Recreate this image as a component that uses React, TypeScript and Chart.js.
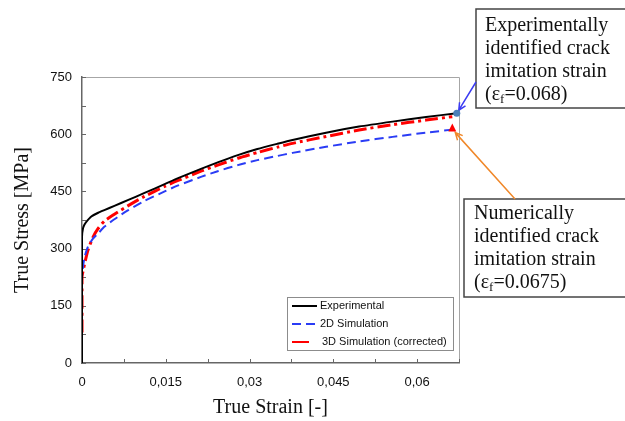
import React, { useEffect, useRef } from "react";
import { Chart, registerables } from "chart.js";

Chart.register(...registerables);

// Measured flow curves: true strain [-] vs true stress [MPa]
const expStrain = [0, 0, 0.00018, 0.00045, 0.00077, 0.00167, 0.0029, 0.004, 0.0058, 0.0082, 0.0112, 0.0148, 0.0171, 0.0213, 0.0243, 0.0279, 0.0314, 0.035, 0.0377, 0.0437, 0.0496, 0.0556, 0.0616, 0.0671];
const expStress = [0, 331, 353, 363, 370, 384, 394, 401, 412, 427, 446, 469, 484, 509, 526, 545, 561, 575, 585, 604, 620, 633, 645, 655];

const sim2dStrain = [0, 0, 0.00018, 0.00048, 0.00107, 0.002, 0.0029, 0.004, 0.0058, 0.0082, 0.0112, 0.0148, 0.0171, 0.0213, 0.0243, 0.0279, 0.0314, 0.035, 0.0377, 0.0437, 0.0496, 0.0556, 0.0616, 0.0663];
const sim2dStress = [100, 225, 252, 279, 305, 327, 340, 357, 377, 400, 425, 450, 465, 488, 503, 519, 532, 543, 551, 567, 581, 593, 604, 612];

const sim3dStrain = [0, 0, 0.00018, 0.00048, 0.00107, 0.002, 0.0029, 0.004, 0.0058, 0.0082, 0.0112, 0.0148, 0.0171, 0.0213, 0.0243, 0.0279, 0.0314, 0.035, 0.0377, 0.0437, 0.0496, 0.0556, 0.0616, 0.0663];
const sim3dStress = [80, 226, 240, 261, 296, 331, 353, 372, 390, 412, 437, 463, 478, 503, 519, 537, 552, 566, 576, 594, 611, 625, 637, 646];

const seriesLabels = ["Experimental", "2D Simulation", "3D Simulation (corrected)"];

const xTicks = [0, 0.0075, 0.015, 0.0225, 0.03, 0.0375, 0.045, 0.0525, 0.06, 0.0675];
const xTickLabels = ["0", "", "0,015", "", "0,03", "", "0,045", "", "0,06", ""];
const yTicks = [0, 75, 150, 225, 300, 375, 450, 525, 600, 675, 750];
const yTickLabels = ["0", "", "150", "", "300", "", "450", "", "600", "", "750"];

const expNote = ["Experimentally", "identified crack", "imitation strain"];
const expNoteValue = "0.068";
const numNote = ["Numerically", "identified crack", "imitation strain"];
const numNoteValue = "0.0675";

const SANS = "'Liberation Sans', Arial, sans-serif";
const SERIF = "'Liberation Serif', 'Times New Roman', serif";

const toPoints = (xs: number[], ys: number[]) => xs.map((x, i) => ({ x, y: ys[i] }));

function drawArrow(ctx: CanvasRenderingContext2D, x1: number, y1: number, x2: number, y2: number, color: string) {
  const ang = Math.atan2(y2 - y1, x2 - x1);
  const head = 8;
  ctx.save();
  ctx.strokeStyle = color;
  ctx.lineWidth = 1.5;
  ctx.beginPath();
  ctx.moveTo(x1, y1);
  ctx.lineTo(x2, y2);
  ctx.moveTo(x2 - head * Math.cos(ang - 0.45), y2 - head * Math.sin(ang - 0.45));
  ctx.lineTo(x2, y2);
  ctx.lineTo(x2 - head * Math.cos(ang + 0.45), y2 - head * Math.sin(ang + 0.45));
  ctx.stroke();
  ctx.restore();
}

function drawNote(ctx: CanvasRenderingContext2D, box: [number, number, number, number], tx: number, ty: number, lines: string[], value: string) {
  const [bx, by, bw, bh] = box;
  ctx.save();
  ctx.fillStyle = "#ffffff";
  ctx.fillRect(bx, by, bw, bh);
  ctx.strokeStyle = "#444444";
  ctx.lineWidth = 1.5;
  ctx.strokeRect(bx, by, bw, bh);
  ctx.fillStyle = "#111111";
  ctx.textBaseline = "middle";
  ctx.textAlign = "left";
  ctx.font = `20px ${SERIF}`;
  const lh = 23;
  lines.forEach((t, i) => ctx.fillText(t, tx, ty + i * lh));
  const y4 = ty + 3 * lh;
  let x = tx;
  const p1 = "(\u03b5";
  ctx.fillText(p1, x, y4);
  x += ctx.measureText(p1).width;
  ctx.font = `13px ${SERIF}`;
  ctx.fillText("f", x, y4 + 5);
  x += ctx.measureText("f").width;
  ctx.font = `20px ${SERIF}`;
  ctx.fillText(`=${value})`, x, y4);
  ctx.restore();
}

const decorPlugin = {
  id: "decor",
  beforeDatasetsDraw(chart: any) {
    const { ctx, chartArea: a, scales } = chart;
    ctx.save();
    // light frame on the top and right of the plot area
    ctx.strokeStyle = "#a6a6a6";
    ctx.lineWidth = 1;
    ctx.beginPath();
    ctx.moveTo(a.left, a.top + 0.5);
    ctx.lineTo(a.right + 0.5, a.top + 0.5);
    ctx.lineTo(a.right + 0.5, a.bottom);
    ctx.stroke();
    // inward tick marks
    ctx.strokeStyle = "#666666";
    ctx.beginPath();
    xTicks.forEach((v) => {
      const px = Math.round(scales.x.getPixelForValue(v)) + 0.5;
      ctx.moveTo(px, a.bottom);
      ctx.lineTo(px, a.bottom - 4);
    });
    yTicks.forEach((v) => {
      const py = Math.round(scales.y.getPixelForValue(v)) + 0.5;
      ctx.moveTo(a.left, py);
      ctx.lineTo(a.left + 4, py);
    });
    ctx.stroke();
    ctx.restore();
  },
  afterDraw(chart: any) {
    const { ctx, scales } = chart;
    const sx = scales.x;
    const sy = scales.y;

    // legend box
    ctx.save();
    const lx = 287, ly = 297, lw = 166, lh = 53;
    ctx.fillStyle = "#ffffff";
    ctx.fillRect(lx, ly, lw, lh);
    ctx.strokeStyle = "#8c8c8c";
    ctx.lineWidth = 1;
    ctx.strokeRect(lx + 0.5, ly + 0.5, lw, lh);
    ctx.font = `11px ${SANS}`;
    ctx.textBaseline = "middle";
    ctx.fillStyle = "#111111";
    const rows = [306, 324, 342];
    // Experimental
    ctx.strokeStyle = "#000000";
    ctx.lineWidth = 2;
    ctx.beginPath();
    ctx.moveTo(292, rows[0]);
    ctx.lineTo(317, rows[0]);
    ctx.stroke();
    ctx.fillText(seriesLabels[0], 320, rows[0]);
    // 2D
    ctx.strokeStyle = "#2a3cf5";
    ctx.setLineDash([9, 5]);
    ctx.beginPath();
    ctx.moveTo(292, rows[1]);
    ctx.lineTo(317, rows[1]);
    ctx.stroke();
    ctx.setLineDash([]);
    ctx.fillText(seriesLabels[1], 320, rows[1]);
    // 3D
    ctx.strokeStyle = "#ff0000";
    ctx.beginPath();
    ctx.moveTo(292, rows[2]);
    ctx.lineTo(309, rows[2]);
    ctx.stroke();
    ctx.fillText(seriesLabels[2], 322, rows[2]);
    ctx.restore();

    // end-point markers
    const ex = sx.getPixelForValue(expStrain[expStrain.length - 1]);
    const ey = sy.getPixelForValue(expStress[expStress.length - 1]);
    const nx = sx.getPixelForValue(sim2dStrain[sim2dStrain.length - 1]);
    const ny = sy.getPixelForValue(sim2dStress[sim2dStress.length - 1]);

    // annotation callouts
    drawNote(ctx, [476, 9, 152, 99], 485, 26, expNote, expNoteValue);
    drawNote(ctx, [464, 199, 164, 98], 474, 214, numNote, numNoteValue);

    drawArrow(ctx, 476, 82, ex + 2, ey - 3, "#3b3bf2");
    drawArrow(ctx, 515, 199, nx + 3, ny + 3, "#f0882a");

    ctx.save();
    ctx.fillStyle = "#ff0000";
    ctx.beginPath();
    ctx.moveTo(nx, ny - 6);
    ctx.lineTo(nx - 4, ny + 2);
    ctx.lineTo(nx + 4, ny + 2);
    ctx.closePath();
    ctx.fill();
    ctx.fillStyle = "#4a7fb8";
    ctx.beginPath();
    ctx.arc(ex, ey, 3.5, 0, Math.PI * 2);
    ctx.fill();
    ctx.restore();
  },
};

export default function App() {
  const canvasRef = useRef<HTMLCanvasElement | null>(null);

  useEffect(() => {
    const canvas = canvasRef.current;
    if (!canvas) return;
    const chart = new Chart(canvas, {
      type: "line",
      data: {
        datasets: [
          {
            label: seriesLabels[0],
            data: toPoints(expStrain, expStress),
            borderColor: "#000000",
            borderWidth: 2,
            pointRadius: 0,
            tension: 0.2,
          },
          {
            label: seriesLabels[1],
            data: toPoints(sim2dStrain, sim2dStress),
            borderColor: "#2a3cf5",
            borderWidth: 2,
            borderDash: [9, 5],
            pointRadius: 0,
            tension: 0.2,
          },
          {
            label: seriesLabels[2],
            data: toPoints(sim3dStrain, sim3dStress),
            borderColor: "#ff0000",
            borderWidth: 3,
            borderDash: [13, 4, 3, 4],
            pointRadius: 0,
            tension: 0.2,
          },
        ],
      },
      options: {
        animation: false,
        responsive: false,
        devicePixelRatio: 1,
        layout: { padding: { left: 0, top: 77, right: 166, bottom: 0 } },
        plugins: {
          legend: { display: false },
          tooltip: { enabled: false },
        },
        scales: {
          x: {
            type: "linear",
            min: 0,
            max: 0.0675,
            afterBuildTicks: (scale: any) => {
              scale.ticks = xTicks.map((v) => ({ value: v }));
            },
            afterFit: (scale: any) => {
              scale.height = 58;
            },
            grid: { display: true, drawOnChartArea: false, drawTicks: false },
            border: { display: true, color: "#666666", width: 1.5 },
            ticks: {
              autoSkip: false,
              maxRotation: 0,
              padding: 12,
              color: "#111111",
              font: { family: SANS, size: 13 },
              callback: (_v: any, i: number) => xTickLabels[i],
            },
            title: {
              display: true,
              text: "True Strain [-]",
              color: "#111111",
              font: { family: SERIF, size: 20 },
              padding: { top: 0, bottom: 1 },
            },
          },
          y: {
            type: "linear",
            min: 0,
            max: 750,
            afterBuildTicks: (scale: any) => {
              scale.ticks = yTicks.map((v) => ({ value: v }));
            },
            afterFit: (scale: any) => {
              scale.width = 82;
            },
            grid: { display: true, drawOnChartArea: false, drawTicks: false },
            border: { display: true, color: "#666666", width: 1.5 },
            ticks: {
              autoSkip: false,
              padding: 10,
              color: "#111111",
              font: { family: SANS, size: 13 },
              callback: (_v: any, i: number) => yTickLabels[i],
            },
            title: {
              display: true,
              text: "True Stress [MPa]",
              color: "#111111",
              font: { family: SERIF, size: 20 },
              padding: { top: 11, bottom: 0 },
            },
          },
        },
      },
      plugins: [decorPlugin],
    });
    return () => chart.destroy();
  }, []);

  return (
    <div style={{ position: "absolute", left: 0, top: 0, width: 625, height: 421, background: "#ffffff" }}>
      <canvas ref={canvasRef} width={625} height={421} style={{ display: "block" }} />
    </div>
  );
}
